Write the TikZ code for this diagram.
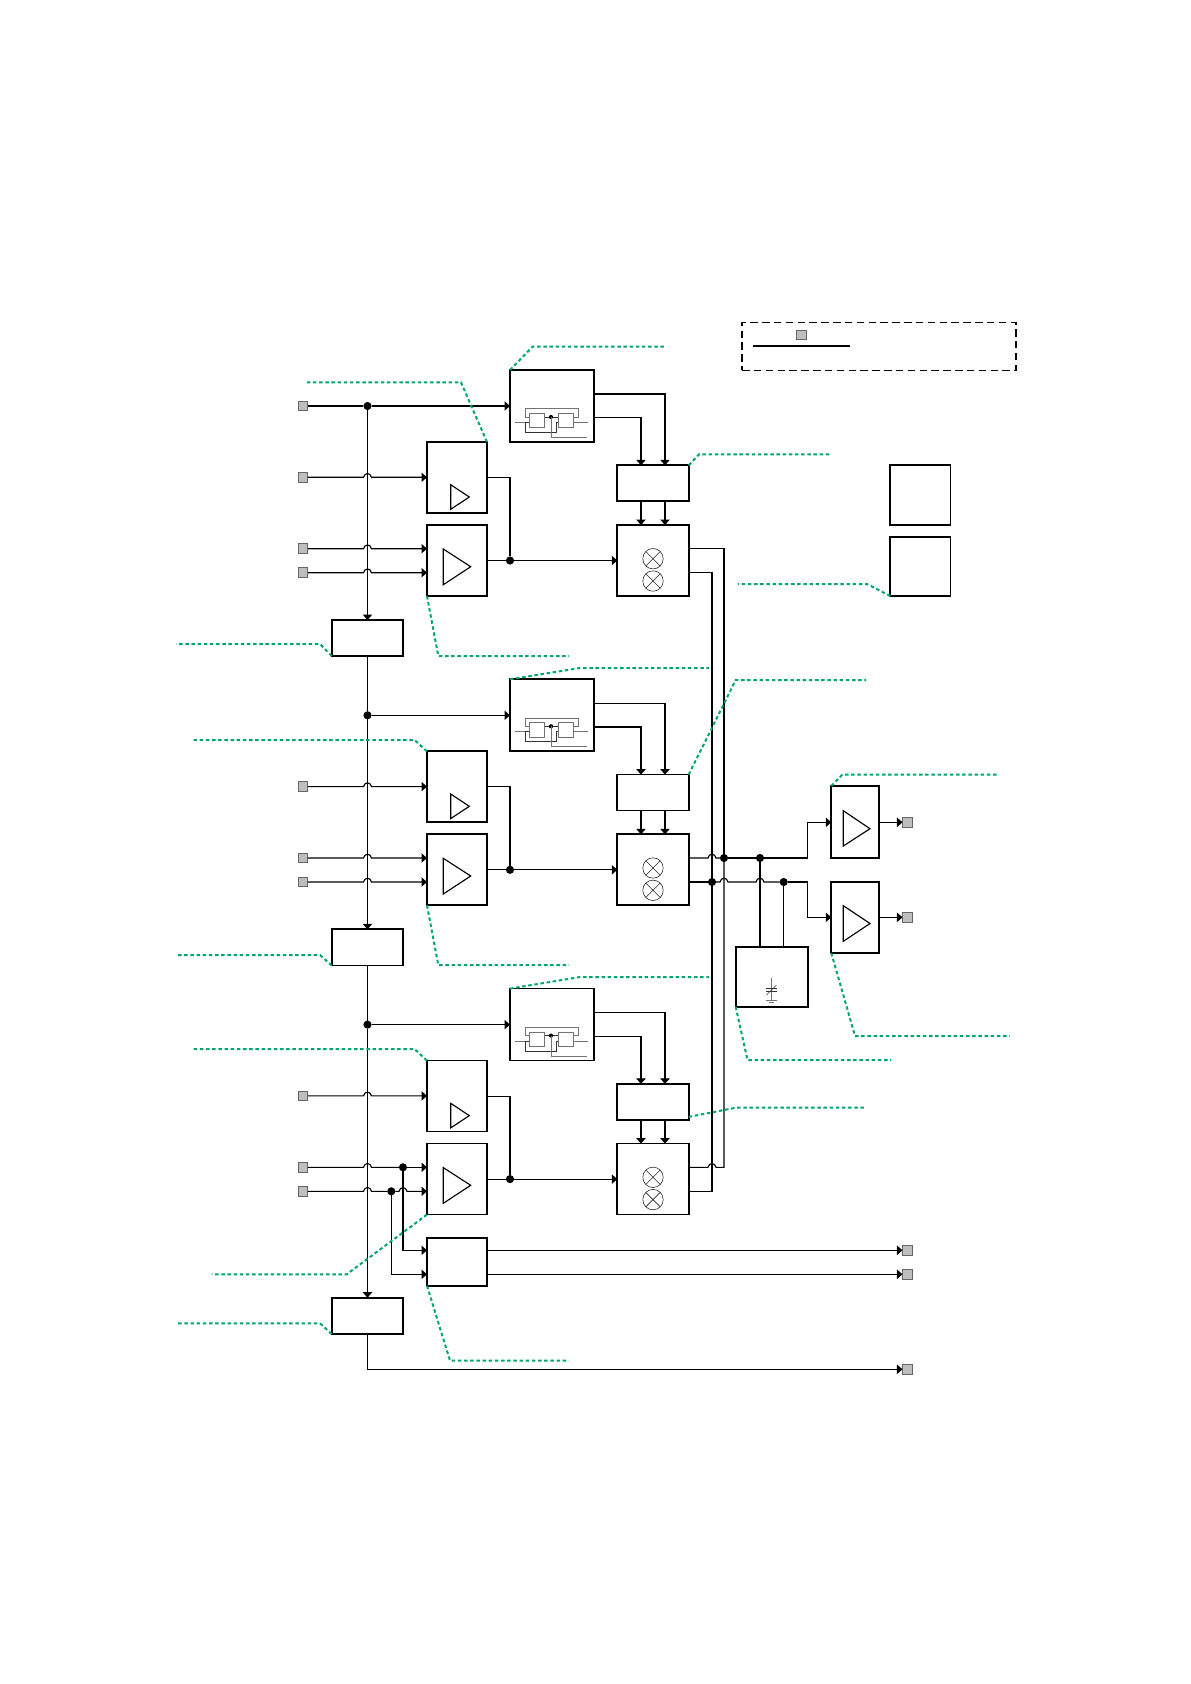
\documentclass[tikz,border=0pt]{standalone}
\usetikzlibrary{arrows.meta,calc}
\definecolor{leadgreen}{RGB}{0,166,110}
\definecolor{pingray}{RGB}{190,190,190}
\tikzset{
  boxn/.style={draw=black,line width=1.05pt,inner sep=0pt,outer sep=0pt},
  pinn/.style={draw=black!60,fill=pingray,line width=0.55pt,inner sep=0pt,outer sep=0pt,minimum size=5.9pt},
  dotn/.style={circle,fill=black,inner sep=0pt,outer sep=0pt,minimum size=4.9pt},
  wire/.style={draw=black,line width=0.68pt},
  arw/.style={wire,-{Triangle[length=3.3pt,width=5.6pt]}},
  leader/.style={draw=leadgreen,line width=1.2pt,dash pattern=on 2.1pt off 1.6pt},
  fine/.style={draw=black,line width=0.68pt},
  latch/.style={draw=black!55,line width=0.38pt},
  latchd/.style={draw=black!80,line width=0.38pt},
  xmark/.style={draw=black!85,line width=0.35pt}
}
\newcommand{\bx}[5]{\node[boxn,minimum width={((#4)-(#2))*0.6pt},minimum height={((#5)-(#3))*0.6pt}] (#1) at ({((#2)+(#4))/2},{((#3)+(#5))/2}) {};}
\newcommand{\hp}[1]{-- ($(#1)+(-4,0)$) .. controls ($(#1)+(-3,-5)$) and ($(#1)+(3,-5)$) .. ($(#1)+(4,0)$)}
\begin{document}
\begin{tikzpicture}[x=0.6pt,y=-0.6pt]
\useasboundingbox (0,0) rectangle (1191,1684);
% ---- repeated stages
\foreach \s/\dy in {1/0,2/309.3,3/618.6}{
  \bx{sr\s}{510}{370+\dy}{594}{442+\dy}
  \bx{ub\s}{427}{442+\dy}{487}{513+\dy}
  \bx{lb\s}{427}{525+\dy}{487}{596+\dy}
  \bx{ct\s}{617.3}{465.3+\dy}{688.7}{501.3+\dy}
  \bx{mx\s}{617.3}{525+\dy}{688.7}{596+\dy}
  \node[pinn] (pa\s) at (303,477.3+\dy) {};
  \node[pinn] (pb\s) at (303,548.7+\dy) {};
  \node[pinn] (pc\s) at (303,572.7+\dy) {};
  \node[dotn] (j\s) at (510,560.5+\dy) {};
  \coordinate (bus\s) at (367.5,477.3+\dy);
  \coordinate (srA\s) at (594,394+\dy);
  \coordinate (srB\s) at (594,417.7+\dy);
  \coordinate (ctR\s) at (665,465.3+\dy);
  \coordinate (ctL\s) at (641,465.3+\dy);
  \coordinate (mxR\s) at (665,525+\dy);
  \coordinate (mxL\s) at (641,525+\dy);
  \coordinate (ma\s) at (688.7,548.7+\dy);
  \coordinate (mb\s) at (688.7,572.7+\dy);
  % wires
  \draw[arw] (pa\s.east) \hp{pa\s -| bus\s} -- (pa\s -| ub\s.west);
  \draw[wire] (ub\s.east) -| (j\s);
  \draw[wire] (lb\s.east) -- (j\s);
  \draw[arw] (j\s) -- (mx\s.west);
  \draw[arw] (srA\s) -| (ctR\s);
  \draw[arw] (srB\s) -| (ctL\s);
  \draw[arw] (ctR\s |- ct\s.south) -- (mxR\s);
  \draw[arw] (ctL\s |- ct\s.south) -- (mxL\s);
  % gain triangles
  \draw[fine] (450.7,484.7+\dy) -- (450.7,509.3+\dy) -- (469.3,497+\dy) -- cycle;
  \draw[fine] (443.3,549+\dy) -- (443.3,584.7+\dy) -- (470.7,566.7+\dy) -- cycle;
  % mixer symbols
  \foreach \cy in {558.7,581}{
    \draw[xmark] (653,\cy+\dy) circle [radius=10.2];
    \draw[xmark] (645.8,\cy+\dy-7.2) -- (660.2,\cy+\dy+7.2);
    \draw[xmark] (645.8,\cy+\dy+7.2) -- (660.2,\cy+\dy-7.2);
  }
  % latch detail
  \draw[latch] (529.3,413.3+\dy) rectangle (544.7,427.7+\dy);
  \draw[latch] (558.3,413.3+\dy) rectangle (573,427.7+\dy);
  \draw[latch] (529.3,417+\dy) -- (525,417+\dy) -- (525,408.7+\dy) -- (578.7,408.7+\dy) -- (578.7,417+\dy) -- (573,417+\dy);
  \draw[latchd] (544.7,417+\dy) -- (558.3,417+\dy);
  \fill (551,417+\dy) circle [radius=2.1];
  \draw[latch] (515,422.5+\dy) -- (529.3,422.5+\dy);
  \draw[latch] (573,422.5+\dy) -- (588,422.5+\dy);
  \draw[latchd] (529.3,422.5+\dy) -- (525,422.5+\dy) -- (525,432.3+\dy) -- (556,432.3+\dy) -- (556,422.5+\dy) -- (558.3,422.5+\dy);
  \draw[latch] (551,417+\dy) -- (551,437.3+\dy) -- (586.7,437.3+\dy);
}
% ---- control / bias boxes on the left
\bx{fa}{331.7}{620}{403.3}{656}
\bx{fb}{331.7}{929.3}{403.3}{965.5}
\bx{fc}{331.7}{1297.7}{403.3}{1334}
% ---- bus
\node[pinn] (p0) at (303,406) {};
\node[dotn] (d1) at (367.5,406) {};
\node[dotn] (d2) at (367.5,715.3) {};
\node[dotn] (d3) at (367.5,1024.6) {};
\draw[wire] (p0.east) -- (d1);
\draw[arw] (d1) -- (sr1.west);
\draw[arw] (d2) -- (sr2.west);
\draw[arw] (d3) -- (sr3.west);
\draw[arw] (d1) -- (fa.north);
\draw[wire] (fa.south) -- (d2);
\draw[arw] (d2) -- (fb.north);
\draw[wire] (fb.south) -- (d3);
\draw[arw] (d3) -- (fc.north);
% ---- input rows, stages 1 and 2
\foreach \s in {1,2}{
  \draw[arw] (pb\s.east) \hp{pb\s -| bus\s} -- (pb\s -| lb\s.west);
  \draw[arw] (pc\s.east) \hp{pc\s -| bus\s} -- (pc\s -| lb\s.west);
}
% ---- stage 3 input rows with branch box
\bx{hb}{427}{1238.3}{487}{1285.7}
\node[dotn] (db) at (403,1167.3) {};
\node[dotn] (dc) at (391.3,1191.3) {};
\coordinate (hA) at (427,1250.3);
\coordinate (hB) at (427,1274.3);
\draw[wire] (pb3.east) \hp{pb3 -| bus3} -- (db);
\draw[arw] (db) -- (db -| lb3.west);
\draw[wire] (pc3.east) \hp{pc3 -| bus3} -- (dc);
\draw[arw] (dc) \hp{dc -| db} -- (dc -| lb3.west);
\draw[arw] (db) |- (hA);
\draw[arw] (dc) |- (hB);
\node[pinn] (oa) at (907.4,1250.3) {};
\node[pinn] (ob) at (907.4,1274.3) {};
\node[pinn] (oc) at (907.4,1369.3) {};
\draw[arw] (hb.east |- oa) -- (oa.west);
\draw[arw] (hb.east |- ob) -- (ob.west);
\draw[arw] (fc.south) |- (oc.west);
% ---- trunks and output stage
\node[dotn] (dt) at (724,858) {};
\node[dotn] (ds) at (712,882) {};
\node[dotn] (de) at (760,858) {};
\node[dotn] (df) at (783.7,882) {};
\bx{am1}{831.3}{786}{879}{858}
\bx{am2}{831.3}{881.7}{879}{953}
\bx{cp}{735.7}{947}{808}{1006.7}
\coordinate (t1) at (807.3,858);
\coordinate (t2) at (807.3,882);
\coordinate (a1) at (831.3,822.3);
\coordinate (a2) at (831.3,917.3);
\node[pinn] (o1) at (907.4,822.3) {};
\node[pinn] (o2) at (907.4,917.3) {};
\draw[wire] (ma1) -| (dt);
\draw[wire] (mb1) -| (ds);
\draw[wire] (ma3) \hp{ma3 -| ds} -- (ma3 -| dt) -- (dt);
\draw[wire] (mb3) -| (ds);
\draw[wire] (ma2) \hp{ma2 -| ds} -- (dt);
\draw[wire] (dt) -- (de);
\draw[wire] (mb2) -- (ds);
\draw[wire] (ds) \hp{ds -| dt} \hp{ds -| de} -- (df);
\draw[arw] (de) -- (t1) |- (a1);
\draw[arw] (df) -- (t2) |- (a2);
\draw[wire] (de) -- (de |- cp.north);
\draw[wire] (df) -- (df |- cp.north);
\draw[arw] (am1.east |- o1) -- (o1.west);
\draw[arw] (am2.east |- o2) -- (o2.west);
\draw[fine] (843.3,810.7) -- (843.3,846) -- (870,828.7) -- cycle;
\draw[fine] (843.3,905.7) -- (843.3,941.3) -- (870,923.5) -- cycle;
% capacitor symbol
\draw[latch] (771.2,978) -- (771.2,1000);
\draw[latchd] (766,988.5) -- (776.5,988.5);
\draw[latchd] (766,991) -- (776.5,991);
\draw[latchd] (766.5,995) -- (776.5,985);
\draw[latch] (766,1000) -- (776.5,1000);
\draw[latch] (768.5,1002.5) -- (774,1002.5);
% ---- two free boxes on the right
\bx{ra}{890.3}{465}{950.5}{525}
\bx{rb}{890.3}{537}{950.5}{596}
% ---- legend
\node[draw=black,line width=0.75pt,dash pattern=on 4.5pt off 2.6pt,inner sep=0pt,outer sep=0pt,minimum width={274*0.6pt},minimum height={47.6*0.6pt}] (lg) at (879,346.5) {};
\node[pinn] (lp) at (801.5,335) {};
\coordinate (ls) at (753.3,346.3);
\coordinate (le) at (849.7,346.3);
\draw[line width=1pt] (ls) -- (le);
% ---- green leaders
\coordinate (g1) at (665,346.7);
\coordinate (g2) at (306,382.3);
\coordinate (g3) at (569,656);
\coordinate (g4) at (176,644);
\coordinate (g5) at (830,454.3);
\coordinate (g6) at (738,584);
\coordinate (g7) at (709,668);
\coordinate (g8) at (193,740);
\coordinate (g9) at (866,680);
\coordinate (g10) at (569,965);
\coordinate (g11) at (176,955);
\coordinate (g12) at (709,977);
\coordinate (g13) at (193,1049);
\coordinate (g14) at (866,1107.5);
\coordinate (g15) at (211.6,1274.3);
\coordinate (g16) at (569,1360.7);
\coordinate (g17) at (177,1323.3);
\coordinate (g18) at (998,774.7);
\coordinate (g19) at (1009.6,1036);
\coordinate (g20) at (891,1060);
\draw[leader] (sr1.north west) -- (532.5,346.7) -- (g1);
\draw[leader] (ub1.north east) -- (461,382.3) -- (g2);
\draw[leader] (lb1.south west) -- (438.3,656) -- (g3);
\draw[leader] (fa.south west) -- (320,644) -- (g4);
\draw[leader] (ct1.north east) -- (699,454.3) -- (g5);
\draw[leader] (rb.south west) -- (867,584) -- (g6);
\draw[leader] (sr2.north west) -- (580,668) -- (g7);
\draw[leader] (ub2.north west) -- (414.5,740) -- (g8);
\draw[leader] (ct2.north east) -- (735.7,680) -- (g9);
\draw[leader] (lb2.south west) -- (438.3,965) -- (g10);
\draw[leader] (fb.south west) -- (320,955) -- (g11);
\draw[leader] (sr3.north west) -- (580,977) -- (g12);
\draw[leader] (ub3.north west) -- (414.5,1049) -- (g13);
\draw[leader] (ct3.south east) ++(0,-3) -- (736.7,1107.5) -- (g14);
\draw[leader] (lb3.south west) -- (346.7,1274.3) -- (g15);
\draw[leader] (hb.south west) -- (450,1360.7) -- (g16);
\draw[leader] (fc.south west) -- (320,1323.3) -- (g17);
\draw[leader] (am1.north west) -- (842.3,774.7) -- (g18);
\draw[leader] (am2.south west) -- (855,1036) -- (g19);
\draw[leader] (cp.south west) -- (747.5,1060) -- (g20);
\end{tikzpicture}
\end{document}
